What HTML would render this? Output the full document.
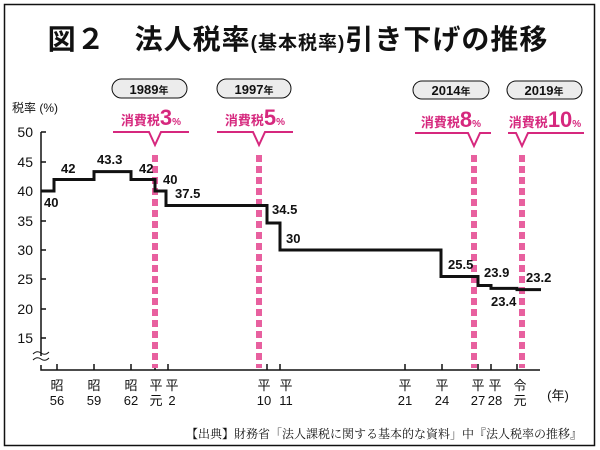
<!DOCTYPE html>
<html><head><meta charset="utf-8"><style>
body{margin:0;background:#fff}
svg{display:block}
text{font-family:"Liberation Sans","Noto Sans CJK JP",sans-serif}
</style></head><body>
<svg width="600" height="450" viewBox="0 0 600 450">
<rect x="4.5" y="4.5" width="590" height="441" fill="none" stroke="#111" stroke-width="1.5"/>
<text x="298" y="49" text-anchor="middle" font-size="28" font-weight="bold" fill="#111" letter-spacing="1">図２　法人税率<tspan font-size="19">(基本税率)</tspan>引き下げの推移</text>
<text x="12" y="112" font-size="12" fill="#111">税率 (%)</text>
<g font-size="14" fill="#111" text-anchor="end">
<text x="33" y="137">50</text><text x="33" y="167">45</text><text x="33" y="196">40</text><text x="33" y="226">35</text><text x="33" y="255">30</text><text x="33" y="284">25</text><text x="33" y="314">20</text><text x="33" y="343">15</text>
</g>
<g stroke="#111" stroke-width="1.5" fill="none">
<path d="M41 132V356M41 365V370H540"/>
<path d="M41 132h5M41 162h5M41 191h5M41 221h5M41 250h5M41 279h5M41 309h5M41 338h5"/>
<path d="M57 370v-6M94 370v-6M131 370v-6M155 370v-6M168 370v-6M267 370v-6M280 370v-6M405 370v-6M442 370v-6M478 370v-6M491 370v-6M517 370v-6"/>
<path d="M33 354q4-4 8-1t8-1M33 360q4-4 8-1t8-1" stroke-width="1"/>
</g>
<g stroke="#e8609f" stroke-width="6" stroke-dasharray="7,4">
<line x1="155" y1="155" x2="155" y2="368"/><line x1="259" y1="155" x2="259" y2="368"/><line x1="474" y1="155" x2="474" y2="368"/><line x1="522" y1="155" x2="522" y2="368"/>
</g>
<path d="M41 191H54V179.5H94V171.6H131V179.5H155V191H166V205.5H267V223H280V250H441V276.5H478V285.5H491V288.4H517V289.6H541" fill="none" stroke="#111" stroke-width="3"/>
<g font-size="13" font-weight="bold" fill="#111">
<text x="44" y="207">40</text><text x="61" y="173">42</text><text x="97" y="164">43.3</text><text x="139" y="173">42</text><text x="163" y="184">40</text><text x="175" y="198">37.5</text>
<text x="272" y="214">34.5</text><text x="286" y="243">30</text><text x="448" y="269">25.5</text><text x="484" y="277">23.9</text><text x="526" y="282">23.2</text><text x="491" y="306">23.4</text>
</g>
<g font-size="13" fill="#111" stroke="#111" stroke-width="1">
<rect x="112" y="79" width="75" height="19" rx="9.5" fill="#ececec"/>
<rect x="217" y="79" width="74" height="19" rx="9.5" fill="#ececec"/>
<rect x="413" y="81" width="76" height="18" rx="9" fill="#ececec"/>
<rect x="507" y="81" width="75" height="18" rx="9" fill="#ececec"/>
</g>
<g font-size="13" font-weight="bold" fill="#111" text-anchor="middle">
<text x="149" y="94">1989<tspan font-size="10">年</tspan></text>
<text x="254" y="94">1997<tspan font-size="10">年</tspan></text>
<text x="451" y="95">2014<tspan font-size="10">年</tspan></text>
<text x="544" y="95">2019<tspan font-size="10">年</tspan></text>
</g>
<g fill="#d6287e" font-weight="bold" text-anchor="middle">
<text x="151" y="125" font-size="13">消費税<tspan font-size="22">3</tspan><tspan font-size="10">%</tspan></text>
<text x="255" y="125" font-size="13">消費税<tspan font-size="22">5</tspan><tspan font-size="10">%</tspan></text>
<text x="451" y="127" font-size="13">消費税<tspan font-size="22">8</tspan><tspan font-size="10">%</tspan></text>
<text x="545" y="127" font-size="13">消費税<tspan font-size="22">10</tspan><tspan font-size="10">%</tspan></text>
</g>
<g fill="none" stroke="#d6287e" stroke-width="2">
<path d="M113 132H149L155 145L161 132H189"/>
<path d="M217 132H253L259 145L265 132H293"/>
<path d="M415 133H468L474 146L480 133H491"/>
<path d="M508 133H516L522 146L528 133H584"/>
</g>
<g font-size="13" fill="#111" text-anchor="middle">
<text x="57" y="390">昭</text><text x="57" y="405">56</text>
<text x="94" y="390">昭</text><text x="94" y="405">59</text>
<text x="131" y="390">昭</text><text x="131" y="405">62</text>
<text x="156" y="390">平</text><text x="156" y="405">元</text>
<text x="172" y="390">平</text><text x="172" y="405">2</text>
<text x="264" y="390">平</text><text x="264" y="405">10</text>
<text x="286" y="390">平</text><text x="286" y="405">11</text>
<text x="405" y="390">平</text><text x="405" y="405">21</text>
<text x="442" y="390">平</text><text x="442" y="405">24</text>
<text x="478" y="390">平</text><text x="478" y="405">27</text>
<text x="495" y="390">平</text><text x="495" y="405">28</text>
<text x="520" y="390">令</text><text x="520" y="405">元</text>
<text x="558" y="400">(年)</text>
</g>
<text x="582" y="438" text-anchor="end" font-size="12" fill="#111" style="font-family:'Liberation Serif','Noto Serif CJK SC',serif">【出典】財務省「法人課税に関する基本的な資料」中『法人税率の推移』</text>
</svg>
</body></html>
